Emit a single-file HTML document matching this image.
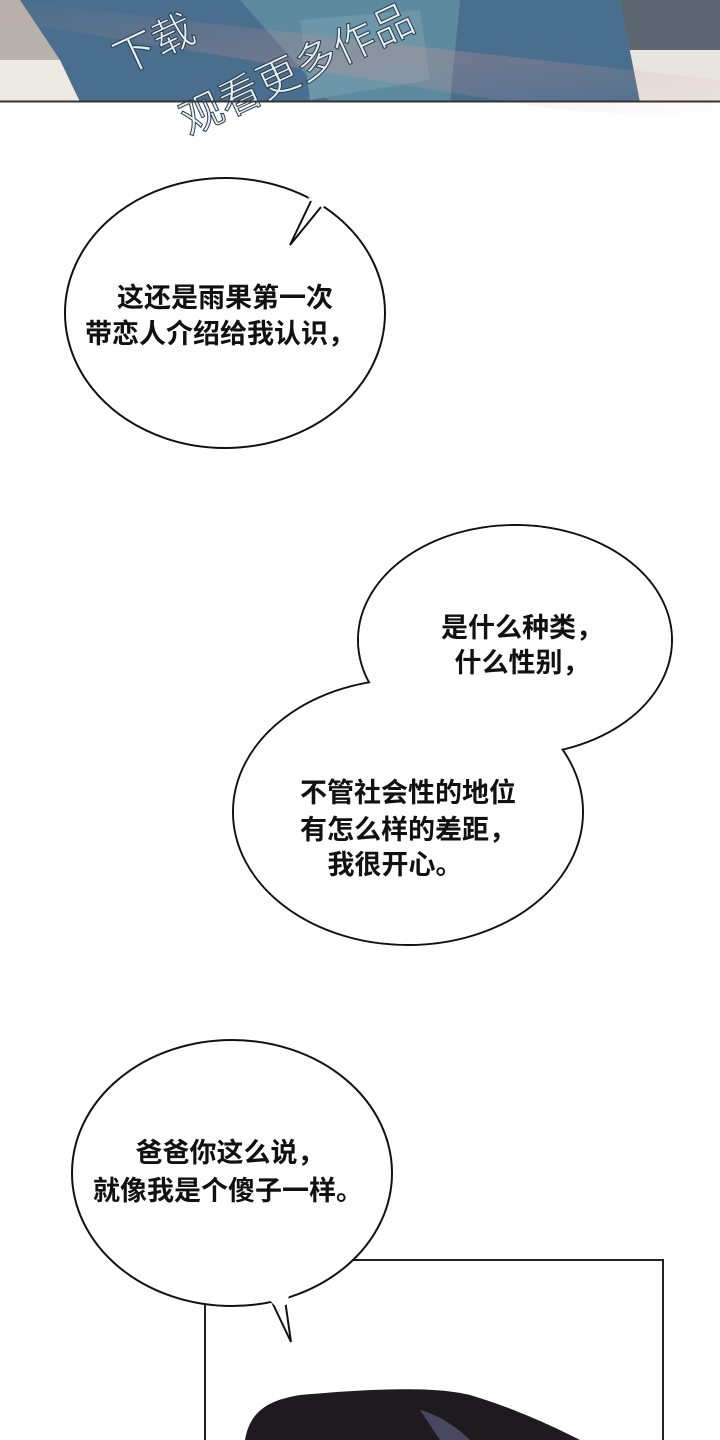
<!DOCTYPE html>
<html><head><meta charset="utf-8"><style>
html,body{margin:0;padding:0;background:#fff;width:720px;height:1440px;overflow:hidden}
svg{display:block}
text{font-family:"Liberation Sans","Noto Sans CJK SC",sans-serif;font-weight:bold;font-size:27px;fill:#111}
</style></head><body>
<svg width="720" height="1440" viewBox="0 0 720 1440">
<defs><linearGradient id="wm" x1="0" y1="0" x2="1" y2="1"><stop offset="0" stop-color="#c98a8a" stop-opacity="0"/><stop offset="0.5" stop-color="#d49090" stop-opacity="0.5"/><stop offset="1" stop-color="#e0a0a0" stop-opacity="0"/></linearGradient></defs>
<rect x="0" y="0" width="720" height="102" fill="#b9b1ab"/>
<rect x="0" y="60" width="80" height="42" fill="#ece8e2"/>
<rect x="620" y="0" width="100" height="50" fill="#5b6670"/>
<rect x="630" y="50" width="90" height="52" fill="#e8e4df"/>
<path d="M20 0 L60 60 L80 102 L640 102 L620 0 Z" fill="#4a6f8e"/>
<path d="M240 0 L460 0 L450 102 L330 102 Z" fill="#5e8aa0"/>
<path d="M300 20 L420 10 L430 80 L310 100 Z" fill="#6d96a8"/>
<path d="M0 0 L720 80 L720 120 L560 110 L0 20 Z" fill="url(#wm)" opacity="0.6"/>
<text x="110" y="60" transform="rotate(-25 150 40)" style="fill:#e6eef2;stroke:#2a3d4c;stroke-width:1;font-size:42px;font-weight:normal">下载</text>
<text x="170" y="100" transform="rotate(-25 260 75)" style="fill:#e6eef2;stroke:#2a3d4c;stroke-width:1;font-size:42px;font-weight:normal">观看更多作品</text>
<line x1="0" y1="101.5" x2="720" y2="101.5" stroke="#333" stroke-width="2"/>
<!-- bubble 1 -->
<ellipse cx="225" cy="313" rx="160" ry="135" fill="#fff" stroke="#111" stroke-width="2"/>
<polygon points="308,197 326,204 321,210 311,204" fill="#fff"/>
<polyline points="311,201 290,245 321,207" fill="#fff" stroke="#111" stroke-width="2" stroke-linejoin="miter"/>
<text x="225" y="307" text-anchor="middle">这还是雨果第一次</text>
<text x="220" y="343" text-anchor="middle">带恋人介绍给我认识，</text>
<!-- bubble 2 -->
<ellipse cx="515" cy="640" rx="157" ry="115" fill="#fff" stroke="#111" stroke-width="2"/>
<ellipse cx="408" cy="812" rx="175" ry="133" fill="#fff" stroke="#111" stroke-width="2"/>
<ellipse cx="515" cy="640" rx="156" ry="114" fill="#fff"/>
<ellipse cx="408" cy="812" rx="174" ry="132" fill="#fff"/>
<text x="522" y="637" text-anchor="middle">是什么种类，</text>
<text x="522" y="672" text-anchor="middle">什么性别，</text>
<text x="408" y="802" text-anchor="middle">不管社会性的地位</text>
<text x="408" y="839" text-anchor="middle">有怎么样的差距，</text>
<text x="395" y="874" text-anchor="middle">我很开心。</text>
<!-- panel -->
<rect x="205" y="1260" width="458" height="200" fill="#fff" stroke="#222" stroke-width="2"/>
<path d="M245 1440 C250 1410 270 1400 300 1395 C360 1390 430 1385 470 1395 C520 1410 560 1430 580 1440 Z" fill="#1e1b1e"/>
<path d="M420 1410 C440 1415 460 1430 470 1440 L440 1440 Z" fill="#4a4860"/>
<!-- bubble 3 -->
<ellipse cx="232" cy="1173" rx="160" ry="133" fill="#fff" stroke="#111" stroke-width="2"/>
<path d="M272 1302 L291 1342 L285 1300" fill="#fff" stroke="#111" stroke-width="2"/>
<path d="M268 1298 L289 1296 L286 1305 L274 1305 Z" fill="#fff"/>
<text x="230" y="1162" text-anchor="middle">爸爸你这么说，</text>
<text x="228" y="1200" text-anchor="middle">就像我是个傻子一样。</text>
</svg>
</body></html>
